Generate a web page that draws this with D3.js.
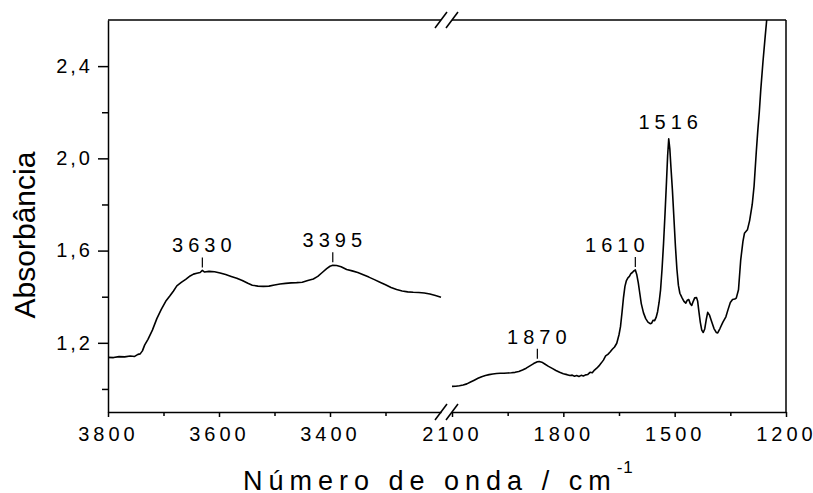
<!DOCTYPE html>
<html>
<head>
<meta charset="utf-8">
<script src="https://cdn.jsdelivr.net/npm/d3@7"></script>
<style>
  body { margin: 0; background: #fff; }
  svg { display: block; }
  text { font-family: "Liberation Sans", Arial, sans-serif; fill: #000; }
</style>
</head>
<body>
<div id="chart"></div>
<script>
// high wavenumber part (left of the break)
var waveHigh = [3800,3790,3780,3770,3760,3752,3746,3742,3738,3734,3728,3720,3712,3704,3696,3688,3682,3676,3668,3660,3652,3646,3640,3634,3630,3626,3618,3608,3598,3588,3578,3568,3558,3548,3540,3530,3520,3510,3500,3490,3480,3470,3460,3450,3440,3430,3422,3414,3406,3400,3395,3388,3380,3370,3360,3350,3340,3330,3320,3310,3300,3290,3280,3270,3260,3250,3240,3230,3220,3210,3200];
var absHigh  = [1.137,1.136,1.140,1.139,1.143,1.141,1.150,1.152,1.165,1.190,1.215,1.255,1.305,1.345,1.380,1.405,1.425,1.447,1.462,1.475,1.490,1.498,1.502,1.505,1.514,1.507,1.510,1.508,1.503,1.496,1.488,1.480,1.470,1.458,1.450,1.446,1.445,1.446,1.451,1.455,1.458,1.460,1.461,1.463,1.470,1.477,1.488,1.505,1.522,1.532,1.536,1.535,1.530,1.518,1.512,1.505,1.495,1.485,1.474,1.463,1.452,1.440,1.431,1.425,1.421,1.419,1.418,1.416,1.412,1.405,1.398];

// low wavenumber part (right of the break)
var waveLow = [2100,2090,2080,2070,2060,2050,2040,2030,2020,2010,2000,1990,1980,1970,1960,1950,1940,1930,1920,1910,1900,1890,1880,1870,1865,1858,1850,1840,1830,1820,1810,1800,1790,1782,1776,1770,1764,1758,1752,1746,1740,1734,1728,1722,1716,1710,1704,1698,1692,1686,1680,1674,1668,1662,1656,1650,1646,1642,1638,1634,1630,1626,1622,1618,1614,1610,1606,1602,1598,1594,1590,1584,1578,1572,1566,1562,1558,1554,1550,1546,1542,1538,1534,1530,1526,1522,1519,1516,1513,1510,1506,1502,1498,1494,1490,1486,1480,1475,1470,1466,1462,1458,1454,1450,1446,1441,1438,1435,1431,1427,1423,1419,1415,1411,1406,1400,1394,1388,1384,1378,1370,1362,1356,1350,1344,1338,1334,1328,1322,1316,1312,1304,1298,1291,1286,1280,1276,1272,1268,1262,1256,1252];
var absLow  = [1.011,1.012,1.014,1.017,1.022,1.030,1.038,1.046,1.053,1.058,1.062,1.065,1.067,1.068,1.068,1.069,1.070,1.072,1.076,1.082,1.090,1.100,1.110,1.118,1.119,1.116,1.108,1.098,1.089,1.080,1.072,1.066,1.062,1.058,1.060,1.055,1.058,1.054,1.059,1.056,1.061,1.063,1.072,1.070,1.082,1.090,1.100,1.112,1.125,1.143,1.150,1.160,1.172,1.182,1.198,1.235,1.270,1.330,1.395,1.445,1.470,1.482,1.488,1.500,1.505,1.512,1.516,1.495,1.460,1.415,1.370,1.330,1.305,1.290,1.283,1.285,1.298,1.296,1.310,1.335,1.375,1.430,1.520,1.630,1.760,1.900,2.010,2.085,2.040,1.960,1.860,1.740,1.620,1.520,1.450,1.415,1.395,1.380,1.372,1.385,1.388,1.370,1.362,1.380,1.395,1.396,1.380,1.340,1.290,1.255,1.245,1.260,1.300,1.332,1.320,1.290,1.262,1.245,1.243,1.262,1.290,1.313,1.345,1.375,1.388,1.390,1.394,1.430,1.560,1.640,1.675,1.690,1.730,1.800,1.880,2.030,2.120,2.200,2.297,2.420,2.530,2.600];

var xTicksHigh = [3800,3600,3400], xMinorHigh = [3700,3500,3300];
var xTicksLow = [2100,1800,1500,1200], xMinorLow = [1950,1650,1350];
var yTicks = [1.2,1.6,2.0,2.4], yMinor = [1.0,1.4,1.8,2.2];

// peak labels: wavenumber, which part, label
var peaks = [
  {w:3630, part:"high", label:"3630"},
  {w:3395, part:"high", label:"3395"},
  {w:1870, part:"low",  label:"1870"},
  {w:1606, part:"low",  label:"1610"},
  {w:1516, part:"low",  label:"1516"}
];

var width = 813, height = 493;
var plotTop = 20, plotBottom = 412, plotLeft = 108, plotRight = 786;

var svg = d3.select("#chart").append("svg")
  .attr("width", width)
  .attr("height", height);

var xHigh = d3.scaleLinear().domain([3800, 3200]).range([plotLeft, 441]);
var xLow  = d3.scaleLinear().domain([2100, 1200]).range([452, plotRight]);
var y = d3.scaleLinear().domain([0.9, 2.6]).range([plotBottom, plotTop]);

var comma = d3.formatLocale({decimal: ",", thousands: ".", grouping: [3], currency: ["", ""]}).format(".1f");

svg.append("defs").append("clipPath").attr("id", "plot")
  .append("rect").attr("x", plotLeft).attr("y", plotTop)
  .attr("width", plotRight - plotLeft).attr("height", plotBottom - plotTop);

// axes
function styleAxis(g, ls) {
  g.selectAll("path, line").attr("stroke", "#000").attr("stroke-width", 1.5);
  g.selectAll("text").style("font-size", "20px").style("letter-spacing", ls + "px")
    .style("font-family", "'Liberation Sans', Arial, sans-serif").attr("fill", "#000");
}

[[xHigh, xTicksHigh, xMinorHigh], [xLow, xTicksLow, xMinorLow]].forEach(function(s) {
  var gx = svg.append("g").attr("transform", "translate(0," + plotBottom + ")")
    .call(d3.axisBottom(s[0]).tickValues(s[1]).tickSize(5).tickSizeOuter(0).tickPadding(10).tickFormat(d3.format("d")));
  styleAxis(gx, 4);
  var gm = svg.append("g").attr("transform", "translate(0," + plotBottom + ")")
    .call(d3.axisBottom(s[0]).tickValues(s[2]).tickSize(4).tickSizeOuter(0).tickFormat(""));
  styleAxis(gm, 0);
  gm.select("path").remove();
  // top frame for this part
  svg.append("line").attr("x1", s[0].range()[0]).attr("x2", s[0].range()[1])
    .attr("y1", plotTop).attr("y2", plotTop).attr("stroke", "#000").attr("stroke-width", 1.5);
});

var gy = svg.append("g").attr("transform", "translate(" + plotLeft + ",0)")
  .call(d3.axisLeft(y).tickValues(yTicks).tickSize(10).tickSizeOuter(0).tickPadding(5).tickFormat(comma));
styleAxis(gy, 3);
var gym = svg.append("g").attr("transform", "translate(" + plotLeft + ",0)")
  .call(d3.axisLeft(y).tickValues(yMinor).tickSize(6).tickFormat(""));
styleAxis(gym, 0);
gym.select("path").remove();

svg.append("line").attr("x1", plotRight).attr("x2", plotRight).attr("y1", plotTop).attr("y2", plotBottom)
  .attr("stroke", "#000").attr("stroke-width", 1.5);

// break marks
[441, 452].forEach(function(bx) {
  [plotTop, plotBottom].forEach(function(by) {
    svg.append("line").attr("x1", bx - 6).attr("y1", by + 8).attr("x2", bx + 6).attr("y2", by - 8)
      .attr("stroke", "#000").attr("stroke-width", 1.5);
  });
});

// spectrum
var plot = svg.append("g").attr("clip-path", "url(#plot)");
var partHigh = waveHigh.map(function(w, i) { return [w, absHigh[i]]; });
var partLow = waveLow.map(function(w, i) { return [w, absLow[i]]; });

plot.append("path").datum(partHigh)
  .attr("fill", "none").attr("stroke", "#000").attr("stroke-width", 1.6).attr("stroke-linejoin", "round")
  .attr("d", d3.line().x(function(d) { return xHigh(d[0]); }).y(function(d) { return y(d[1]); }));

plot.append("path").datum(partLow)
  .attr("fill", "none").attr("stroke", "#000").attr("stroke-width", 1.6).attr("stroke-linejoin", "round")
  .attr("d", d3.line().x(function(d) { return xLow(d[0]); }).y(function(d) { return y(d[1]); }));

// peak annotations
peaks.forEach(function(p) {
  var sx = p.part == "high" ? xHigh : xLow;
  var arr = p.part == "high" ? partHigh : partLow;
  var pt = arr.find(function(d) { return d[0] == p.w; });
  var px = sx(p.w), py = y(pt[1]);
  var tx = px, ty = py - 18;
  if (p.label == "1516") { ty = py - 10; }
  else {
    svg.append("line").attr("x1", px).attr("x2", px).attr("y1", py - 13).attr("y2", py - 3)
      .attr("stroke", "#000").attr("stroke-width", 1.2);
  }
  if (p.label == "1610") tx = px - 20;
  svg.append("text").attr("x", tx + 2).attr("y", ty)
    .attr("text-anchor", "middle")
    .style("font-size", "20px").style("letter-spacing", "5px")
    .text(p.label);
});

// axis titles
svg.append("text")
  .attr("transform", "translate(35,235) rotate(-90)")
  .attr("text-anchor", "middle")
  .style("font-size", "30px")
  .text("Absorbância");

var xt = svg.append("text").attr("x", 243).attr("y", 490)
  .style("font-size", "27px").style("letter-spacing", "6px");
xt.append("tspan").text("Número de onda / cm");
xt.append("tspan").attr("dy", -17).style("font-size", "17px").style("letter-spacing", "1px").text("-1");
</script>
</body>
</html>
